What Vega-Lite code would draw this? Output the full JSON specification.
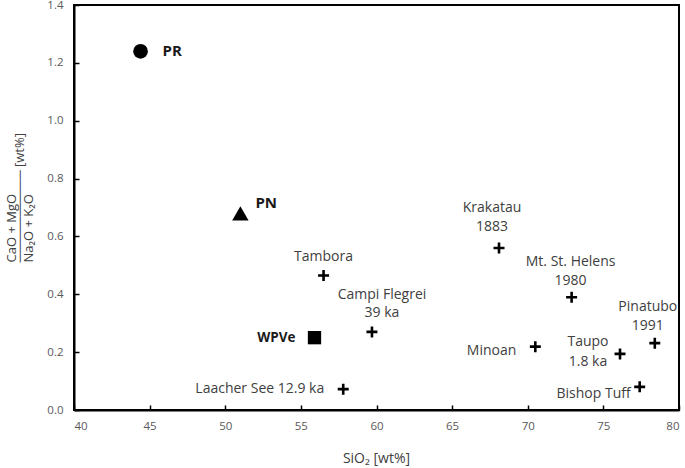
{
  "$schema": "https://vega.github.io/schema/vega-lite/v6.json",
  "autosize": {"type": "none"},
  "padding": {"left": 74, "top": 5, "right": 6, "bottom": 58},
  "width": 605,
  "height": 405,
  "background": "white",
  "config": {
    "font": "Open Sans",
    "view": {"stroke": "black", "strokeWidth": 2},
    "axis": {
      "grid": false,
      "domainColor": "black",
      "domainWidth": 2,
      "tickColor": "black",
      "tickWidth": 1.5,
      "tickSize": -5,
      "labelColor": "#595959",
      "labelFont": "Open Sans",
      "labelFontSize": 11.5,
      "titleColor": "#404040",
      "titleFont": "Open Sans",
      "titleFontWeight": "normal",
      "titleFontSize": 14
    }
  },
  "datasets": {
    "pts": [
      {"name": "PR", "sio2": 44.4, "ratio": 1.24},
      {"name": "PN", "sio2": 51.0, "ratio": 0.68},
      {"name": "WPVe", "sio2": 55.9, "ratio": 0.25},
      {"name": "Tambora", "sio2": 56.5, "ratio": 0.465},
      {"name": "Campi Flegrei\n39 ka", "sio2": 59.7, "ratio": 0.27},
      {"name": "Laacher See 12.9 ka", "sio2": 57.8, "ratio": 0.072},
      {"name": "Krakatau\n1883", "sio2": 68.1, "ratio": 0.56},
      {"name": "Mt. St. Helens\n1980", "sio2": 72.9, "ratio": 0.39},
      {"name": "Minoan", "sio2": 70.5, "ratio": 0.219},
      {"name": "Taupo\n1.8 ka", "sio2": 76.1, "ratio": 0.194},
      {"name": "Pinatubo\n1991", "sio2": 78.4, "ratio": 0.231},
      {"name": "Bishop Tuff", "sio2": 77.4, "ratio": 0.08}
    ]
  },
  "data": {"name": "pts"},
  "encoding": {
    "x": {
      "field": "sio2", "type": "quantitative",
      "scale": {"domain": [40, 80], "nice": false, "zero": false},
      "axis": {
        "values": [40, 45, 50, 55, 60, 65, 70, 75, 80],
        "labelPadding": 15,
        "title": "SiO₂ [wt%]",
        "titleBaseline": "middle",
        "titleX": 302,
        "titleY": 48
      }
    },
    "y": {
      "field": "ratio", "type": "quantitative",
      "scale": {"domain": [0, 1.4], "nice": false},
      "axis": {
        "values": [0, 0.2, 0.4, 0.6, 0.8, 1.0, 1.2, 1.4],
        "format": ".1f",
        "labelPadding": 16,
        "title": ["  CaO + MgO", "──────────  [wt%]", "Na₂O + K₂O"],
        "titleFontSize": 13,
        "titleAlign": "left",
        "titleBaseline": "middle",
        "titleLineHeight": 8.5,
        "titleAngle": -90,
        "titleX": -63,
        "titleY": 257
      }
    }
  },
  "layer": [
    {
      "transform": [{"filter": "datum.name === 'PR'"}],
      "mark": {"type": "point", "shape": "circle", "filled": true, "color": "black", "opacity": 1, "size": 216}
    },
    {
      "transform": [{"filter": "datum.name === 'PN'"}],
      "mark": {"type": "point", "shape": "triangle-up", "filled": true, "color": "black", "opacity": 1, "size": 270}
    },
    {
      "transform": [{"filter": "datum.name === 'WPVe'"}],
      "mark": {"type": "point", "shape": "square", "filled": true, "color": "black", "opacity": 1, "size": 177}
    },
    {
      "transform": [{"filter": "datum.name !== 'PR' && datum.name !== 'PN' && datum.name !== 'WPVe'"}],
      "mark": {"type": "point", "shape": "M-1,0L1,0M0,-1L0,1", "filled": false, "stroke": "black", "strokeWidth": 2.6, "opacity": 1, "size": 121}
    },
    {
      "transform": [{"filter": "datum.name === 'PR'"}],
      "mark": {"type": "text", "font": "Open Sans", "fontWeight": "bold", "fontSize": 15, "color": "#1a1a1a", "align": "left", "baseline": "middle", "dx": 22, "dy": 0},
      "encoding": {"text": {"field": "name"}}
    },
    {
      "transform": [{"filter": "datum.name === 'PN'"}],
      "mark": {"type": "text", "font": "Open Sans", "fontWeight": "bold", "fontSize": 15, "color": "#1a1a1a", "align": "left", "baseline": "middle", "dx": 15, "dy": -10},
      "encoding": {"text": {"field": "name"}}
    },
    {
      "transform": [{"filter": "datum.name === 'WPVe'"}],
      "mark": {"type": "text", "font": "Open Sans", "fontWeight": "bold", "fontSize": 13.5, "color": "#1a1a1a", "align": "right", "baseline": "middle", "dx": -19, "dy": 0},
      "encoding": {"text": {"field": "name"}}
    },
    {
      "transform": [{"filter": "datum.name === 'Tambora'"}],
      "mark": {"type": "text", "font": "Open Sans", "fontSize": 14, "color": "#404040", "align": "center", "baseline": "middle", "dx": 0, "dy": -18},
      "encoding": {"text": {"field": "name"}}
    },
    {
      "transform": [{"filter": "datum.name === 'Campi Flegrei\\n39 ka'"}],
      "mark": {"type": "text", "font": "Open Sans", "fontSize": 14, "color": "#404040", "align": "center", "baseline": "middle", "lineBreak": "\n", "lineHeight": 18, "dx": 10, "dy": -37},
      "encoding": {"text": {"field": "name"}}
    },
    {
      "transform": [{"filter": "datum.name === 'Laacher See 12.9 ka'"}],
      "mark": {"type": "text", "font": "Open Sans", "fontSize": 14, "color": "#404040", "align": "right", "baseline": "middle", "dx": -19, "dy": 0},
      "encoding": {"text": {"field": "name"}}
    },
    {
      "transform": [{"filter": "datum.name === 'Krakatau\\n1883'"}],
      "mark": {"type": "text", "font": "Open Sans", "fontSize": 14, "color": "#404040", "align": "center", "baseline": "middle", "lineBreak": "\n", "lineHeight": 19, "dx": -7, "dy": -40},
      "encoding": {"text": {"field": "name"}}
    },
    {
      "transform": [{"filter": "datum.name === 'Mt. St. Helens\\n1980'"}],
      "mark": {"type": "text", "font": "Open Sans", "fontSize": 14, "color": "#404040", "align": "center", "baseline": "middle", "lineBreak": "\n", "lineHeight": 19, "dx": -1, "dy": -35},
      "encoding": {"text": {"field": "name"}}
    },
    {
      "transform": [{"filter": "datum.name === 'Minoan'"}],
      "mark": {"type": "text", "font": "Open Sans", "fontSize": 14, "color": "#404040", "align": "right", "baseline": "middle", "dx": -19, "dy": 4},
      "encoding": {"text": {"field": "name"}}
    },
    {
      "transform": [{"filter": "datum.name === 'Taupo\\n1.8 ka'"}],
      "mark": {"type": "text", "font": "Open Sans", "fontSize": 14, "color": "#404040", "align": "center", "baseline": "middle", "lineBreak": "\n", "lineHeight": 20, "dx": -32, "dy": -12},
      "encoding": {"text": {"field": "name"}}
    },
    {
      "transform": [{"filter": "datum.name === 'Pinatubo\\n1991'"}],
      "mark": {"type": "text", "font": "Open Sans", "fontSize": 14, "color": "#404040", "align": "center", "baseline": "middle", "lineBreak": "\n", "lineHeight": 19, "dx": -7, "dy": -36},
      "encoding": {"text": {"field": "name"}}
    },
    {
      "transform": [{"filter": "datum.name === 'Bishop Tuff'"}],
      "mark": {"type": "text", "font": "Open Sans", "fontSize": 14, "color": "#404040", "align": "right", "baseline": "middle", "dx": -9, "dy": 7},
      "encoding": {"text": {"field": "name"}}
    }
  ]
}
